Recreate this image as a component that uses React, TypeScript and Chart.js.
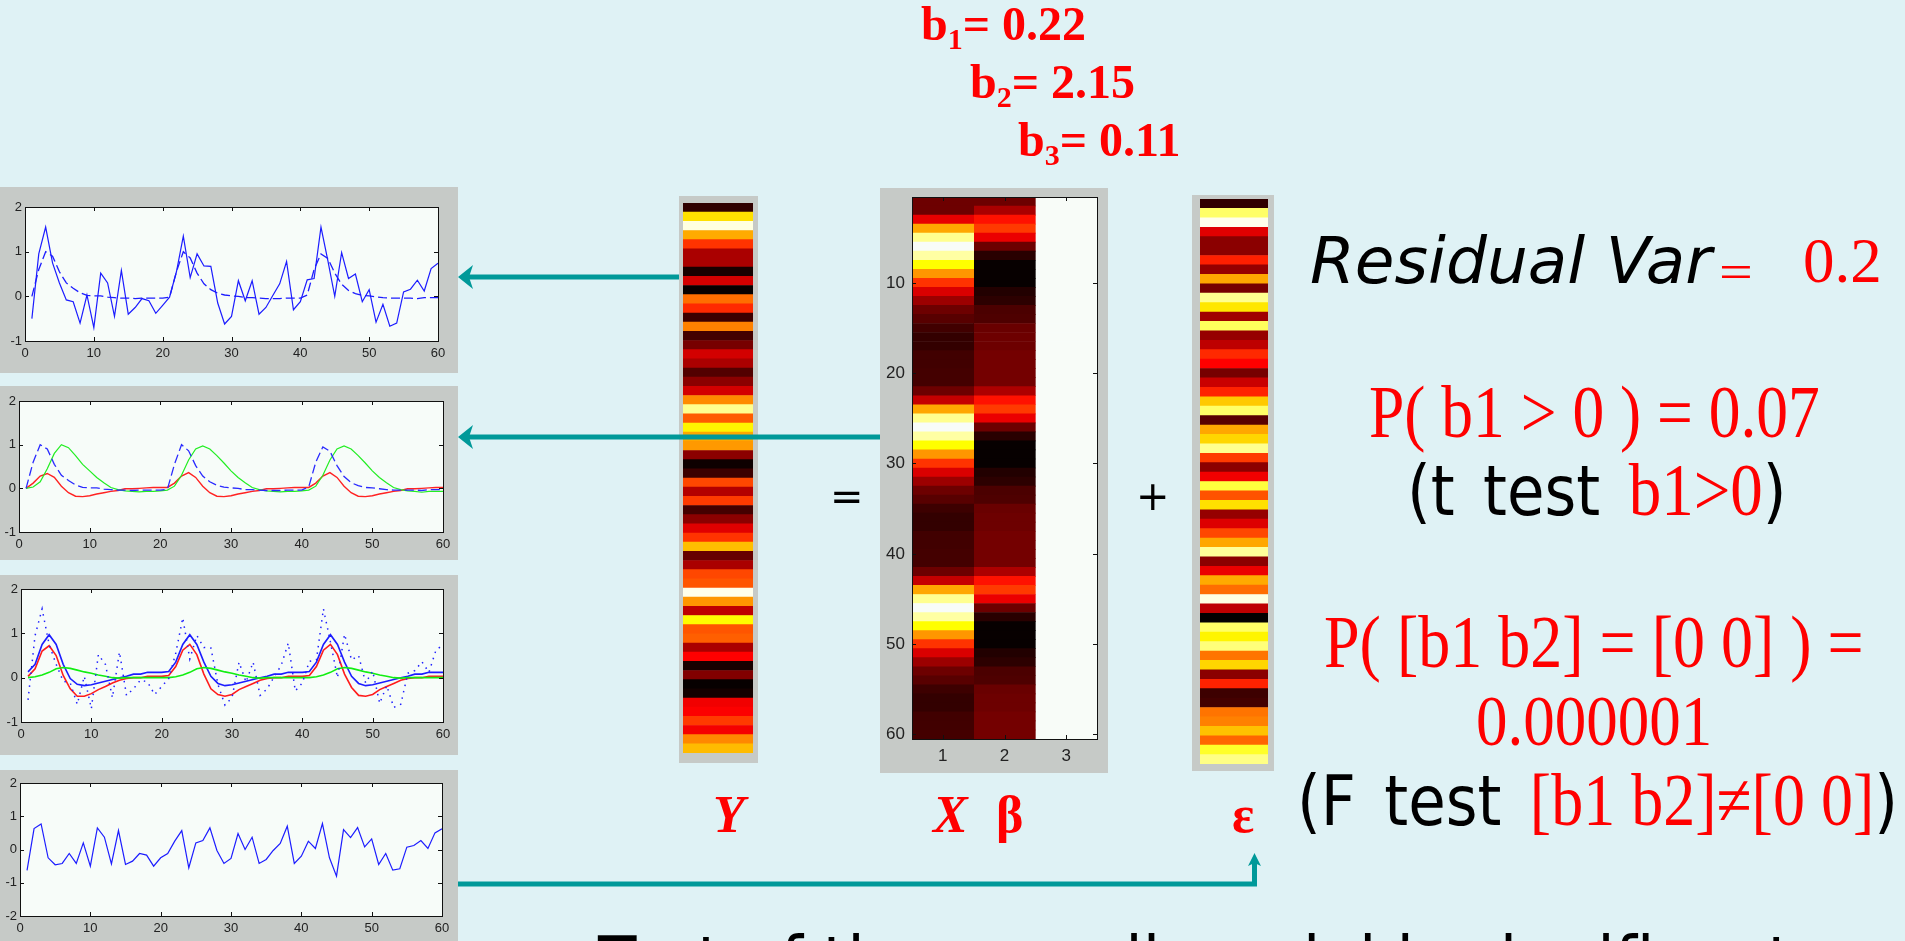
import React, { useEffect, useRef } from "react";
import { Chart, registerables } from "chart.js";

Chart.register(...registerables);

const timePoints = [1,2,3,4,5,6,7,8,9,10,11,12,13,14,15,16,17,18,19,20,21,22,23,24,25,26,27,28,29,30,31,32,33,34,35,36,37,38,39,40,41,42,43,44,45,46,47,48,49,50,51,52,53,54,55,56,57,58,59,60];
const rowLabels = timePoints;
const matrixColumns = [1, 2, 3];

const observedY = [-0.5,0.95,1.55,0.75,0.3,-0.08,-0.12,-0.6,0.03,-0.7,0.52,0.3,-0.45,0.58,-0.4,-0.25,-0.05,-0.1,-0.38,-0.2,-0.02,0.55,1.35,0.42,0.95,0.68,0.67,-0.15,-0.62,-0.45,0.35,-0.1,0.35,-0.4,-0.25,0.02,0.28,0.78,-0.3,-0.12,0.37,0.4,1.55,0.8,0,0.98,0.4,0.5,-0.12,0.15,-0.58,-0.18,-0.67,-0.6,0.1,0.16,0.36,0.12,0.62,0.74];
const fitDashed = [0,0.6,1.0,0.9,0.55,0.3,0.18,0.08,0.02,0.01,0.01,-0.02,-0.03,-0.04,-0.04,-0.05,-0.04,-0.04,-0.04,-0.04,-0.02,0.55,1.0,0.86,0.52,0.28,0.15,0.07,0.03,0.01,0,-0.03,-0.03,-0.04,-0.05,-0.05,-0.05,-0.04,-0.04,-0.04,0.03,0.6,0.95,0.85,0.52,0.27,0.13,0.06,0.02,0.01,-0.01,-0.03,-0.04,-0.04,-0.04,-0.04,-0.05,-0.03,-0.03,-0.03];
const regressorGreen = [0,0.03,0.15,0.45,0.8,1.0,0.93,0.75,0.55,0.4,0.25,0.13,0.02,-0.03,-0.06,-0.07,-0.08,-0.07,-0.07,-0.06,-0.04,0.05,0.3,0.65,0.9,0.97,0.9,0.75,0.58,0.4,0.25,0.13,0.02,-0.03,-0.06,-0.07,-0.08,-0.07,-0.07,-0.06,-0.04,0.05,0.3,0.65,0.9,0.97,0.9,0.75,0.58,0.4,0.25,0.13,0.02,-0.03,-0.06,-0.07,-0.09,-0.07,-0.07,-0.07];
const regressorRed = [0,0.12,0.28,0.34,0.25,0.05,-0.1,-0.18,-0.19,-0.17,-0.13,-0.1,-0.07,-0.05,-0.01,-0.01,0,0.01,0.02,0.02,0.02,0.12,0.28,0.36,0.25,0.05,-0.1,-0.18,-0.19,-0.17,-0.13,-0.1,-0.07,-0.05,-0.01,-0.01,0,0.01,0.02,0.02,0.02,0.12,0.28,0.36,0.25,0.05,-0.1,-0.18,-0.19,-0.17,-0.13,-0.1,-0.07,-0.05,-0.01,-0.01,0,0.01,0.02,0.02];
const fitBlue = [0.13,0.3,0.75,0.97,0.75,0.3,-0.02,-0.15,-0.18,-0.16,-0.12,-0.08,-0.04,0,0.03,0.08,0.08,0.12,0.12,0.12,0.14,0.35,0.75,0.97,0.75,0.35,0.03,-0.13,-0.18,-0.16,-0.12,-0.08,-0.04,0,0.03,0.08,0.08,0.12,0.12,0.12,0.14,0.35,0.75,0.97,0.75,0.35,0.03,-0.13,-0.18,-0.16,-0.12,-0.08,-0.04,0,0.03,0.08,0.08,0.12,0.12,0.12];
const fitRed = [0.03,0.2,0.6,0.72,0.5,0.05,-0.25,-0.42,-0.42,-0.36,-0.27,-0.2,-0.12,-0.06,-0.02,0,0,0.03,0.03,0.03,0.05,0.25,0.62,0.75,0.52,0.08,-0.25,-0.38,-0.42,-0.38,-0.27,-0.2,-0.13,-0.06,-0.02,0,0,0.03,0.03,0.03,0.05,0.25,0.62,0.75,0.52,0.08,-0.22,-0.4,-0.42,-0.38,-0.27,-0.2,-0.13,-0.06,-0.02,0,0,0.03,0.03,0.03];
const fitGreen = [0,0.02,0.06,0.12,0.2,0.23,0.21,0.17,0.13,0.1,0.06,0.03,0,-0.01,0,0,0,0,0,0,0,0.02,0.06,0.12,0.2,0.23,0.21,0.17,0.13,0.1,0.06,0.03,0,-0.01,0,0,0,0,0,0,0,0.02,0.06,0.12,0.2,0.23,0.21,0.17,0.13,0.1,0.06,0.03,0,-0.01,0,0,0,0,0,0];
const residualValues = [-0.63,0.63,0.77,-0.25,-0.46,-0.42,-0.12,-0.42,0.2,-0.5,0.65,0.37,-0.43,0.57,-0.45,-0.35,-0.12,-0.17,-0.5,-0.25,-0.12,0.25,0.57,-0.55,0.2,0.27,0.65,-0.03,-0.42,-0.27,0.48,0,0.37,-0.42,-0.3,-0.03,0.18,0.7,-0.42,-0.2,0.25,0.03,0.78,-0.25,-0.8,0.6,0.36,0.66,0.08,0.32,-0.45,-0.12,-0.62,-0.58,0.07,0.12,0.27,0.03,0.5,0.62];

const heatY = [0.07,0.705,0.97,0.625,0.45,0.25,0.25,0.035,0.31,0.01,0.535,0.435,0.09,0.565,0.1,0.175,0.31,0.25,0.12,0.205,0.31,0.58,0.89,0.51,0.735,0.62,0.6,0.205,0.02,0.09,0.48,0.265,0.46,0.1,0.205,0.33,0.45,0.655,0.15,0.25,0.48,0.5,0.98,0.595,0.28,0.745,0.5,0.515,0.25,0.375,0.035,0.19,0.01,0.03,0.355,0.37,0.46,0.36,0.575,0.65];
const heatE = [0.07,0.85,0.98,0.33,0.205,0.205,0.42,0.22,0.62,0.175,0.89,0.715,0.235,0.84,0.22,0.28,0.435,0.375,0.175,0.295,0.425,0.67,0.85,0.13,0.62,0.69,0.89,0.46,0.205,0.355,0.81,0.495,0.705,0.22,0.325,0.48,0.62,0.9,0.205,0.345,0.625,0.535,0.97,0.28,0.005,0.85,0.735,0.87,0.545,0.69,0.205,0.425,0.09,0.1,0.545,0.565,0.66,0.525,0.79,0.88];
const heatX1 = [0.16,0.16,0.34,0.62,0.89,1,0.91,0.75,0.595,0.45,0.32,0.23,0.16,0.13,0.095,0.075,0.075,0.095,0.095,0.1,0.1,0.16,0.29,0.62,0.89,0.99,0.91,0.75,0.595,0.45,0.32,0.23,0.16,0.13,0.09,0.075,0.075,0.095,0.095,0.1,0.1,0.16,0.29,0.62,0.89,0.99,0.91,0.75,0.595,0.45,0.32,0.23,0.16,0.13,0.09,0.075,0.075,0.095,0.095,0.1];
const heatX2 = [0.16,0.25,0.4,0.46,0.345,0.16,0.06,0.01,0.01,0.01,0.05,0.065,0.11,0.115,0.155,0.16,0.16,0.17,0.17,0.17,0.17,0.255,0.4,0.46,0.345,0.16,0.06,0.01,0.01,0.01,0.05,0.065,0.11,0.115,0.155,0.16,0.16,0.17,0.17,0.17,0.17,0.255,0.4,0.46,0.345,0.16,0.06,0.01,0.01,0.01,0.05,0.065,0.11,0.115,0.155,0.16,0.16,0.17,0.17,0.17];
const heatX3 = [1,1,1,1,1,1,1,1,1,1,1,1,1,1,1,1,1,1,1,1,1,1,1,1,1,1,1,1,1,1,1,1,1,1,1,1,1,1,1,1,1,1,1,1,1,1,1,1,1,1,1,1,1,1,1,1,1,1,1,1];

function hot(v: number) {
  if (v >= 0.985) return "#f8fcf8";
  const r = Math.min(1, v / 0.375);
  const g = Math.max(0, Math.min(1, (v - 0.375) / 0.375));
  const b = Math.max(0, Math.min(1, (v - 0.75) / 0.25));
  return `rgb(${Math.round(r * 255)},${Math.round(g * 255)},${Math.round(b * 255)})`;
}

const PANEL_BG = "#c6cac7";
const PLOT_BG = "#f7fcf9";
const TICK_FONT = { family: "'Liberation Sans',sans-serif", size: 13 };

const matlabAxes = {
  id: "matlabAxes",
  beforeDatasetsDraw(chart: any) {
    const { ctx, chartArea: a } = chart;
    ctx.save();
    ctx.fillStyle = PLOT_BG;
    ctx.fillRect(a.left, a.top, a.width, a.height);
    ctx.restore();
  },
  afterDatasetsDraw(chart: any) {
    const { ctx, chartArea: a } = chart;
    const len = 4;
    ctx.save();
    ctx.strokeStyle = "#111";
    ctx.lineWidth = 1;
    ctx.strokeRect(Math.round(a.left) + 0.5, Math.round(a.top) + 0.5, Math.round(a.width), Math.round(a.height));
    ctx.beginPath();
    chart.scales.x.ticks.forEach((t: any, i: number) => {
      if (t.label === "") return;
      const p = Math.round(chart.scales.x.getPixelForTick(i)) + 0.5;
      ctx.moveTo(p, a.top); ctx.lineTo(p, a.top + len);
      ctx.moveTo(p, a.bottom); ctx.lineTo(p, a.bottom - len);
    });
    chart.scales.y.ticks.forEach((t: any, i: number) => {
      if (t.label === "") return;
      const p = Math.round(chart.scales.y.getPixelForTick(i)) + 0.5;
      ctx.moveTo(a.left, p); ctx.lineTo(a.left + len, p);
      ctx.moveTo(a.right, p); ctx.lineTo(a.right - len, p);
    });
    ctx.stroke();
    ctx.restore();
  },
};

function fit(size: number) {
  return (scale: any) => {
    if (scale.isHorizontal()) scale.height = size;
    else scale.width = size;
    scale.paddingTop = 0;
    scale.paddingBottom = 0;
    scale.paddingLeft = 0;
    scale.paddingRight = 0;
  };
}

type Box = { x: number; y: number; w: number; h: number };
type Inset = { l: number; t: number; r: number; b: number };

function Canvas({ box, config, blur = 0.45 }: { box: Box; config: () => any; blur?: number }) {
  const ref = useRef<HTMLCanvasElement>(null);
  useEffect(() => {
    const chart = new Chart(ref.current as HTMLCanvasElement, config());
    return () => chart.destroy();
  }, []);
  return (
    <div style={{ position: "absolute", left: box.x, top: box.y, width: box.w, height: box.h, background: PANEL_BG }}>
      <canvas ref={ref} width={box.w} height={box.h} style={{ display: "block", filter: `blur(${blur}px)` }} />
    </div>
  );
}

function linePanel(box: Box, ins: Inset, yMin: number, datasets: any[]) {
  return () => ({
    type: "line",
    data: { labels: timePoints, datasets },
    plugins: [matlabAxes],
    options: {
      responsive: false,
      animation: false,
      layout: { padding: { top: ins.t, right: ins.r, left: 0, bottom: 0 } },
      plugins: { legend: { display: false }, tooltip: { enabled: false } },
      elements: { point: { radius: 0 }, line: { tension: 0 } },
      scales: {
        x: {
          type: "linear", min: 0, max: 60,
          ticks: { stepSize: 10, font: TICK_FONT, color: "#222", padding: 5, maxRotation: 0 },
          grid: { display: false, drawTicks: false }, border: { display: false },
          afterFit: fit(ins.b),
        },
        y: {
          type: "linear", min: yMin, max: 2,
          ticks: { stepSize: 1, font: TICK_FONT, color: "#222", padding: 3 },
          grid: { display: false, drawTicks: false }, border: { display: false },
          afterFit: fit(ins.l),
        },
      },
    },
  });
}

function stripConfig(values: number[]) {
  return () => ({
    type: "bar",
    data: {
      labels: rowLabels,
      datasets: [{ data: values.map(() => 1), backgroundColor: values.map(hot), barPercentage: 1, categoryPercentage: 1, borderWidth: 0 }],
    },
    options: {
      indexAxis: "y",
      responsive: false,
      animation: false,
      layout: { padding: 0 },
      plugins: { legend: { display: false }, tooltip: { enabled: false } },
      scales: {
        x: { display: false, min: 0, max: 1 },
        y: { display: false },
      },
    },
  });
}

function matrixConfig(ins: Inset) {
  const cols = [heatX1, heatX2, heatX3];
  return () => ({
    type: "bar",
    data: {
      labels: rowLabels,
      datasets: matrixColumns.map((c, i) => ({
        data: cols[i].map(() => [c - 0.5, c + 0.5]),
        backgroundColor: cols[i].map(hot),
        barPercentage: 1, categoryPercentage: 1, borderWidth: 0, grouped: false,
      })),
    },
    plugins: [matlabAxes],
    options: {
      indexAxis: "y",
      responsive: false,
      animation: false,
      layout: { padding: { top: ins.t, right: ins.r, left: 0, bottom: 0 } },
      plugins: { legend: { display: false }, tooltip: { enabled: false } },
      scales: {
        x: {
          type: "linear", min: 0.5, max: 3.5,
          afterBuildTicks: (scale: any) => { scale.ticks = matrixColumns.map((v) => ({ value: v })); },
          ticks: { font: { family: "'Liberation Sans',sans-serif", size: 17 }, color: "#222", padding: 7, callback: (v: number) => String(v) },
          grid: { display: false, drawTicks: false }, border: { display: false },
          afterFit: fit(ins.b),
        },
        y: {
          ticks: {
            autoSkip: false, font: { family: "'Liberation Sans',sans-serif", size: 17 }, color: "#222", padding: 7,
            callback: (_v: number, i: number) => (rowLabels[i] % 10 === 0 ? String(rowLabels[i]) : ""),
          },
          grid: { display: false, drawTicks: false }, border: { display: false },
          afterFit: fit(ins.l),
        },
      },
    },
  });
}

const SANS = "'DejaVu Sans',sans-serif";
const SERIF = "'Liberation Serif',serif";

function T({ x, y, size, sy = 1.15, font = SERIF, color = "#f00", bold, italic, children }: any) {
  const base = 0.84 * size;
  return (
    <div style={{
      position: "absolute", left: x, top: y - base, fontSize: size, lineHeight: 1, whiteSpace: "pre",
      fontFamily: font, color, fontWeight: bold ? 700 : 400, fontStyle: italic ? "italic" : "normal",
      transform: `scaleY(${sy})`, transformOrigin: `0 ${base}px`,
    }}>{children}</div>
  );
}

const Bk = ({ children }: any) => <span style={{ fontFamily: SANS, color: "#000", fontSize: 61, wordSpacing: 9 }}>{children}</span>;
const Sub = ({ children, size }: any) => <span style={{ fontSize: size, position: "relative", top: size * 0.3 }}>{children}</span>;

const p1Box = { x: 0, y: 187, w: 458, h: 186 };
const p2Box = { x: 0, y: 386, w: 458, h: 174 };
const p3Box = { x: 0, y: 575, w: 458, h: 180 };
const p4Box = { x: 0, y: 770, w: 458, h: 171 };
const xBox = { x: 880, y: 188, w: 228, h: 585 };

const solid = (data: number[], c: string, w = 1.2) => ({ data, borderColor: c, borderWidth: w, fill: false });
const dashed = (data: number[], c: string, d: number[], w = 1.3) => ({ data, borderColor: c, borderWidth: w, borderDash: d, fill: false });

export default function App() {
  return (
    <div style={{ position: "fixed", inset: 0, background: "#dff2f5", overflow: "hidden" }}>
      <Canvas box={p1Box} config={linePanel(p1Box, { l: 25, t: 20, r: 20, b: 32 }, -1, [
        dashed(fitDashed, "#1c1cff", [9, 4]), solid(observedY, "#1c1cff"),
      ])} />
      <Canvas box={p2Box} config={linePanel(p2Box, { l: 19, t: 15, r: 15, b: 28 }, -1, [
        dashed(fitDashed, "#2a2aff", [9, 4]), solid(regressorGreen, "#22ee22"), solid(regressorRed, "#ff2222", 1.4),
      ])} />
      <Canvas box={p3Box} config={linePanel(p3Box, { l: 21, t: 14, r: 15, b: 33 }, -1, [
        dashed(observedY, "#2020ff", [1.5, 5], 1.5), solid(fitGreen, "#11ee11", 1.6), solid(fitBlue, "#1c1cff", 1.6), solid(fitRed, "#ff1c1c", 1.6),
      ])} />
      <Canvas box={p4Box} config={linePanel(p4Box, { l: 20, t: 13, r: 16, b: 25 }, -2, [
        solid(residualValues, "#1c1cff"),
      ])} />

      <div style={{ position: "absolute", left: 679, top: 196, width: 79, height: 567, background: PANEL_BG }} />
      <div style={{ position: "absolute", left: 683, top: 203, width: 70, height: 550 }}>
        <Canvas box={{ x: 0, y: 0, w: 70, h: 550 }} config={stripConfig(heatY)} />
      </div>

      <Canvas box={xBox} config={matrixConfig({ l: 32, t: 9, r: 11, b: 34 })} />

      <div style={{ position: "absolute", left: 1192, top: 195, width: 82, height: 576, background: PANEL_BG }} />
      <div style={{ position: "absolute", left: 1200, top: 199, width: 68, height: 565 }}>
        <Canvas box={{ x: 0, y: 0, w: 68, h: 565 }} config={stripConfig(heatE)} />
      </div>

      <svg width={1905} height={941} style={{ position: "absolute", left: 0, top: 0, pointerEvents: "none" }}>
        <g fill="#009999">
          <rect x={466} y={274.5} width={213} height={5} />
          <path d="M458 277 L473 265 L469 277 L473 289 Z" />
          <rect x={466} y={434.5} width={414} height={5} />
          <path d="M458 437 L473 425 L469 437 L473 449 Z" />
          <rect x={458} y={881.5} width={799} height={5} />
          <rect x={1252} y={862} width={5} height={24} />
          <path d="M1254.5 853 L1261 866 L1254.5 863 L1248 866 Z" />
        </g>
      </svg>

      <T x={921} y={40} size={48} sy={1} bold>b<Sub size={30}>1</Sub>= 0.22</T>
      <T x={970} y={98} size={48} sy={1} bold>b<Sub size={30}>2</Sub>= 2.15</T>
      <T x={1018} y={156} size={48} sy={1} bold>b<Sub size={30}>3</Sub>= 0.11</T>

      <T x={1310} y={283} size={64.5} sy={1} font={SANS} color="#000" italic>Residual Var</T>
      <T x={1719} y={288} size={60} sy={0.8}>=</T>
      <T x={1803} y={283} size={63} sy={1}>0.2</T>

      <T x={1369} y={437} size={63.5}>P( b1 &gt; 0 ) = 0.07</T>
      <T x={1407} y={516} size={65}><Bk>(t test </Bk>b1&gt;0<Bk>)</Bk></T>
      <T x={1324} y={668} size={64}>P( [b1 b2] = [0 0] ) =</T>
      <T x={1476} y={746} size={63}>0.000001</T>
      <T x={1297} y={826} size={64}><Bk>(F test </Bk>[b1 b2]≠[0 0]<Bk>)</Bk></T>

      <T x={830} y={510} size={40} font={SANS} color="#000" sy={1}>=</T>
      <T x={1136} y={510} size={40} font={SANS} color="#000" sy={1}>+</T>

      <T x={713} y={833} size={52} sy={1} bold italic>Y</T>
      <T x={933} y={833} size={52} sy={1} bold italic>X</T>
      <T x={996} y={833} size={52} sy={1} bold>β</T>
      <T x={1232} y={833} size={52} sy={1} bold>ε</T>

      <T x={598} y={986} size={63} font={SANS} color="#000" sy={1.1}>Test of the overall model is significant</T>
    </div>
  );
}
